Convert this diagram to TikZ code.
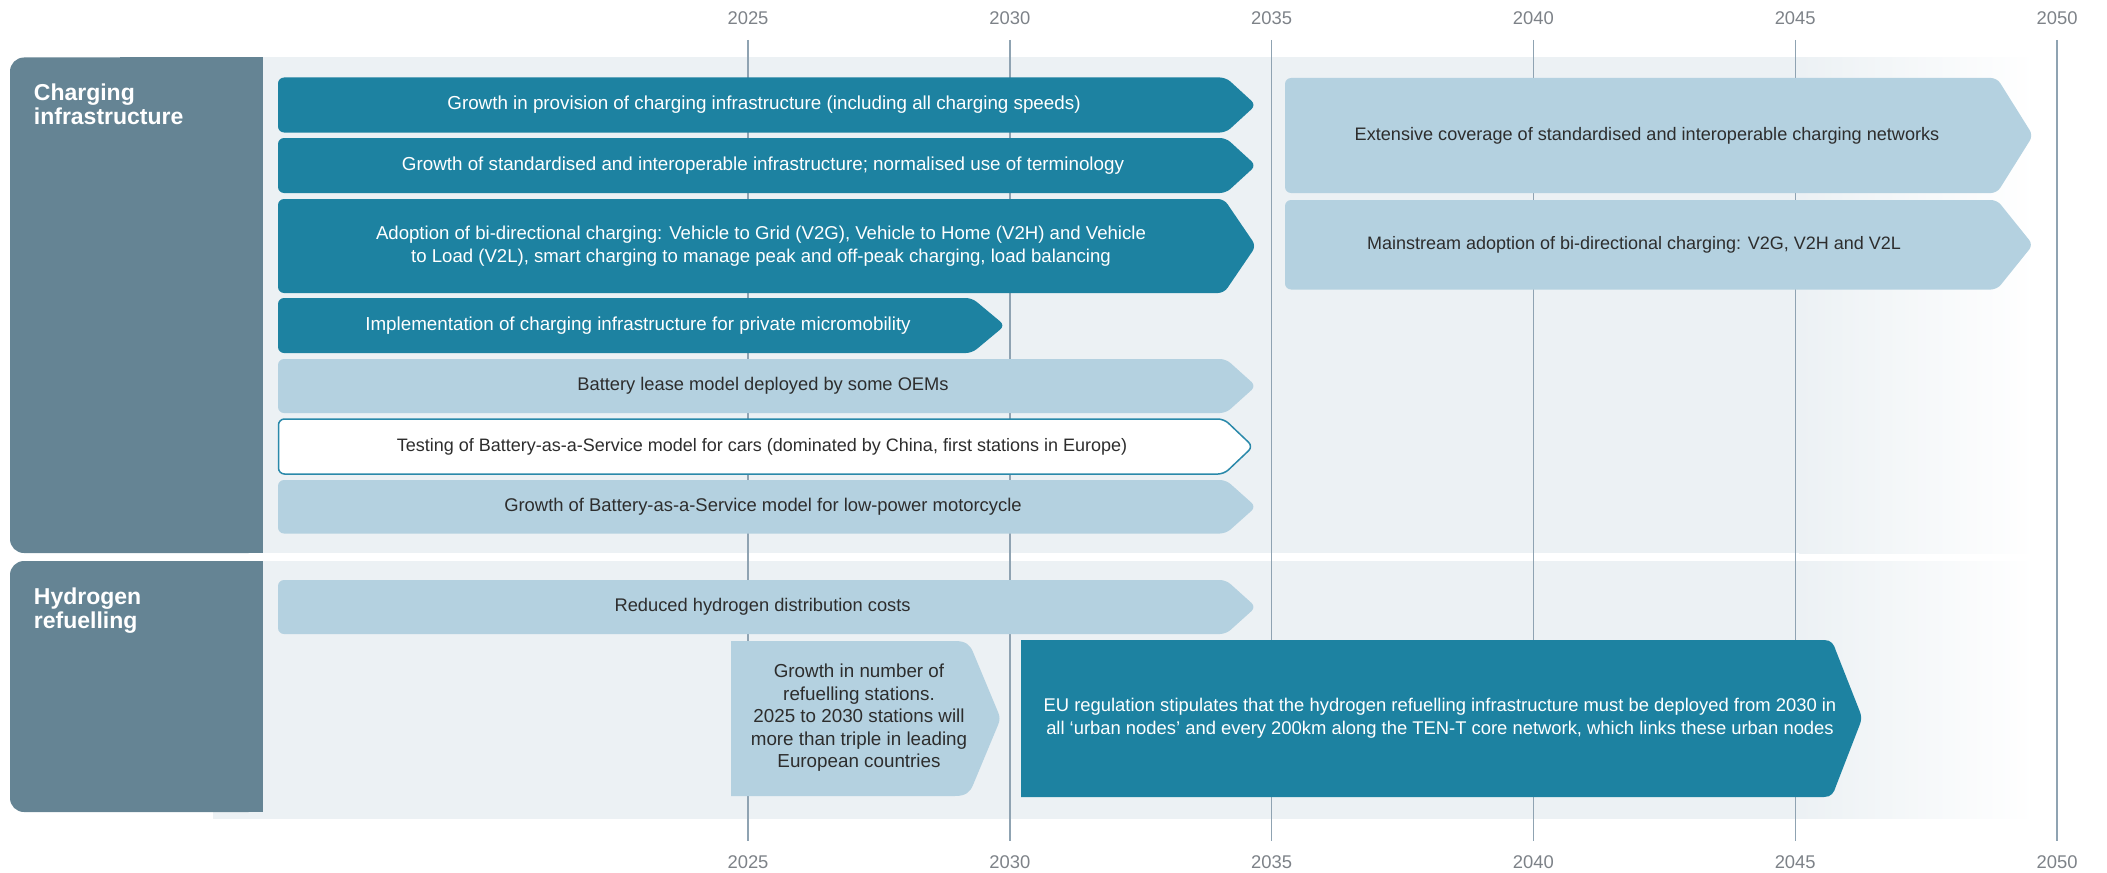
\documentclass[tikz,border=0pt]{standalone}
\usepackage{fontspec}
\setmainfont{Liberation Sans}
\definecolor{panelc}{RGB}{101,132,148}
\definecolor{bgc}{RGB}{236,241,244}
\definecolor{tealc}{RGB}{29,130,161}
\definecolor{lightc}{RGB}{180,209,224}
\definecolor{darktxt}{RGB}{45,45,45}
\definecolor{vlinec}{RGB}{143,163,178}
\definecolor{yearc}{RGB}{125,130,136}
\definecolor{outlinec}{RGB}{42,137,170}
\newcommand\chevbar[6]{\path[#1] (#2,#3) -- ({#4-#6},#3) -- (#4,{(#3+#5)/2}) -- ({#4-#6},#5) -- (#2,#5) -- cycle;}
\begin{document}
\begin{tikzpicture}[x=0.5pt,y=-0.5pt,
  darkbar/.style={fill=tealc, rounded corners=3pt},
  lightbar/.style={fill=lightc, rounded corners=3pt},
  outbar/.style={fill=white, draw=outlinec, line width=0.75pt, rounded corners=3pt},
  btxt/.style={font=\fontsize{9.4}{11.5}\selectfont, align=center, inner sep=0pt},
  wtxt/.style={btxt, text=white},
  dtxt/.style={btxt, text=darktxt},
  fs/.style={font=\fontsize{#1}{11.5}\selectfont},
  yearlbl/.style={text=yearc, font=\fontsize{9.2}{11}\selectfont, inner sep=0pt},
  header/.style={text=white, font=\bfseries\fontsize{11.5}{12}\selectfont, anchor=base west, inner sep=0pt},
  vline/.style={draw=vlinec, line width=0.7pt}]
\useasboundingbox (0,0) rectangle (2107,872);
% backgrounds
\fill[bgc] (213,57.5) rectangle (1800,553);
\shade[left color=bgc, right color=white] (1799,57.5) rectangle (2035,553);
\fill[bgc] (213,561) rectangle (1800,818.5);
\shade[left color=bgc, right color=white] (1799,561) rectangle (2035,818.5);
% year lines and labels
\foreach \yr/\xx in {2025/748,2030/1009.8,2035/1271.6,2040/1533.4,2045/1795.2,2050/2057}{
  \node[yearlbl] (t\yr) at (\xx,18) {\yr};
  \node[yearlbl] (b\yr) at (\xx,862) {\yr};
  \coordinate (lt\yr) at (\xx,40);
  \coordinate (lb\yr) at (\xx,841);
  \draw[vline] (lt\yr) -- (lb\yr);
}
% side panels
\fill[panelc, rounded corners=7pt] (10,57.5) rectangle (262.5,553);
\fill[panelc] (120,57.5) rectangle (262.5,553);
\fill[panelc, rounded corners=7pt] (10,561) rectangle (262.5,812);
\fill[panelc] (120,561) rectangle (262.5,812);
\node[header] (h1a) at (33.5,100.7) {Charging};
\node[header] (h1b) at (33.5,125) {infrastructure};
\node[header] (h2a) at (33.5,604.5) {Hydrogen};
\node[header] (h2b) at (33.5,628.5) {refuelling};
% charging bars
\chevbar{darkbar}{278}{77.5}{1256}{132.5}{30}
\node[wtxt] (c1) at (764,105) {Growth in provision of charging infrastructure (including all charging speeds)};
\chevbar{darkbar}{278}{138}{1256}{193}{30}
\node[wtxt] (c2) at (763,165.5) {Growth of standardised and interoperable infrastructure; normalised use of terminology};
\chevbar{darkbar}{278}{199}{1256}{293}{32}
\node[wtxt, fs=9.3] (c3) at (761,246) {Adoption of bi-directional charging: Vehicle to Grid (V2G), Vehicle to Home (V2H) and Vehicle\\to Load (V2L), smart charging to manage peak and off-peak charging, load balancing};
\chevbar{darkbar}{278}{298}{1005}{353}{33}
\node[wtxt] (c4) at (638,325.5) {Implementation of charging infrastructure for private micromobility};
\chevbar{lightbar}{278}{359}{1256}{413}{30}
\node[dtxt, fs=9.15] (c5) at (763,386) {Battery lease model deployed by some OEMs};
\chevbar{outbar}{278.5}{419}{1253}{474}{29}
\node[dtxt, fs=9.0] (c6) at (762,446.5) {Testing of Battery-as-a-Service model for cars (dominated by China, first stations in Europe)};
\chevbar{lightbar}{278}{480}{1256}{533.5}{30}
\node[dtxt, fs=9.2] (c7) at (763,506.7) {Growth of Battery-as-a-Service model for low-power motorcycle};
\chevbar{lightbar}{1285}{78}{2033}{193}{36}
\node[dtxt, fs=9.05] (ca) at (1647,135.5) {Extensive coverage of standardised and interoperable charging networks};
\chevbar{lightbar}{1285}{200}{2033}{289.5}{36}
\node[dtxt, fs=9.0] (cb) at (1634,244.6) {Mainstream adoption of bi-directional charging: V2G, V2H and V2L};
% hydrogen bars
\chevbar{lightbar}{278}{580}{1256}{634}{30}
\node[dtxt, fs=9.15] (r1) at (762.6,607) {Reduced hydrogen distribution costs};
\fill[lightc] (731,641) -- (955,641) .. controls (966,641) and (970,645) .. (973,652) -- (998,712) .. controls (1000,716) and (1000,721) .. (998,725) -- (973,785) .. controls (970,792) and (966,796) .. (955,796) -- (731,796) -- cycle;
\node[dtxt, font=\fontsize{9.4}{11.25}\selectfont] (r2) at (859,718) {Growth in number of\\refuelling stations.\\2025 to 2030 stations will\\more than triple in leading\\European countries};
\fill[tealc] (1021,640) -- (1824,640) .. controls (1831,640) and (1834,644) .. (1836,651) -- (1860,712) .. controls (1861.5,716) and (1861.5,720) .. (1860,724) -- (1836,786) .. controls (1834,793) and (1831,797) .. (1824,797) -- (1021,797) -- cycle;
\node[wtxt, fs=9.2] (r3) at (1440,718) {EU regulation stipulates that the hydrogen refuelling infrastructure must be deployed from 2030 in\\all ‘urban nodes’ and every 200km along the TEN-T core network, which links these urban nodes};
\end{tikzpicture}
\end{document}
